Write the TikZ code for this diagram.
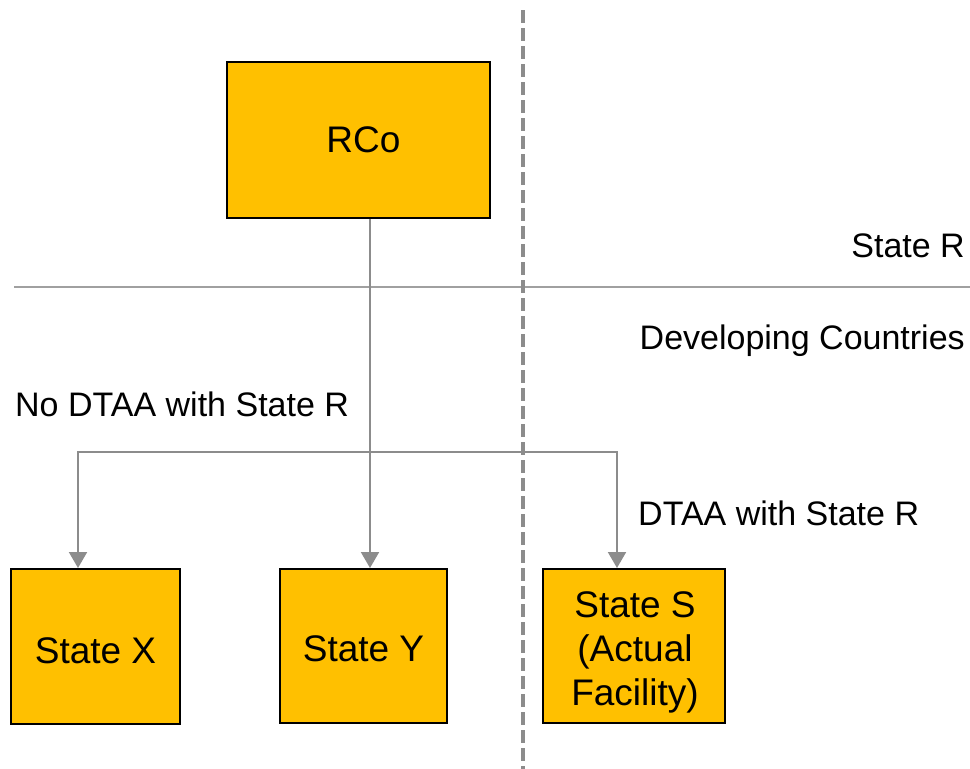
\documentclass[tikz,border=0pt]{standalone}
\usepackage{fontspec}
\setmainfont{Liberation Sans}
\usetikzlibrary{arrows.meta}
\definecolor{boxfill}{HTML}{FFC000}
\definecolor{linegray}{HTML}{8C8C8C}
\definecolor{divgray}{HTML}{A0A0A0}
\tikzset{
  entity/.style={draw=black, line width=2pt, fill=boxfill, inner sep=0pt},
  caption/.style={inner sep=0pt, align=center, font=\fontsize{37}{44}\selectfont},
  link/.style={draw=linegray, line width=2pt},
  arr/.style={link, -{Triangle[width=18pt,length=16pt]}},
  region/.style={font=\fontsize{34}{40}\selectfont, inner sep=0pt},
}
\begin{document}
\begin{tikzpicture}[x=1pt, y=-1pt]
  \useasboundingbox (0,0) rectangle (970,769);

  % border between State R and the developing countries
  \draw[draw=divgray, line width=2pt] (14,287) -- (970,287);
  % dashed split between non-treaty and treaty states
  \draw[draw=linegray, line width=4pt, dash pattern=on 13pt off 5pt] (523,10) -- (523,769);

  % entities
  \node[entity, minimum width=263pt, minimum height=156pt] (rco) at (358.5,140) {};
  \node[entity, minimum width=169pt, minimum height=155pt] (sx) at (95.5,646.5) {};
  \node[entity, minimum width=167pt, minimum height=154pt] (sy) at (363.5,646) {};
  \node[entity, minimum width=182pt, minimum height=154pt] (ss) at (634,646) {};
  \node[caption, xshift=5pt] (rcotext) at (rco.center) {RCo};
  \node[caption, yshift=-4pt] (sxtext) at (sx.center) {State X};
  \node[caption, yshift=-3pt] (sytext) at (sy.center) {State Y};
  \node[caption, xshift=1pt, yshift=-6pt] (sstext) at (ss.center) {State S\\(Actual\\Facility)};

  % region labels
  \node[region, anchor=base east] (lr) at (965,257) {State R};
  \node[region, anchor=base east] (ldc) at (965,349) {Developing Countries};
  \node[region, anchor=base west] (lno) at (15,416) {No DTAA with State R};
  \node[region, anchor=base west] (lyes) at (638,525) {DTAA with State R};

  % ownership connectors
  \coordinate (jn) at (370,452);
  \coordinate (bl) at (78,452);
  \coordinate (br) at (617,452);
  \draw[arr] (rco.south -| jn) -- (jn |- sy.north);
  \draw[arr] (jn) -- (bl) -- (bl |- sx.north);
  \draw[arr] (jn) -- (br) -- (br |- ss.north);
\end{tikzpicture}
\end{document}
